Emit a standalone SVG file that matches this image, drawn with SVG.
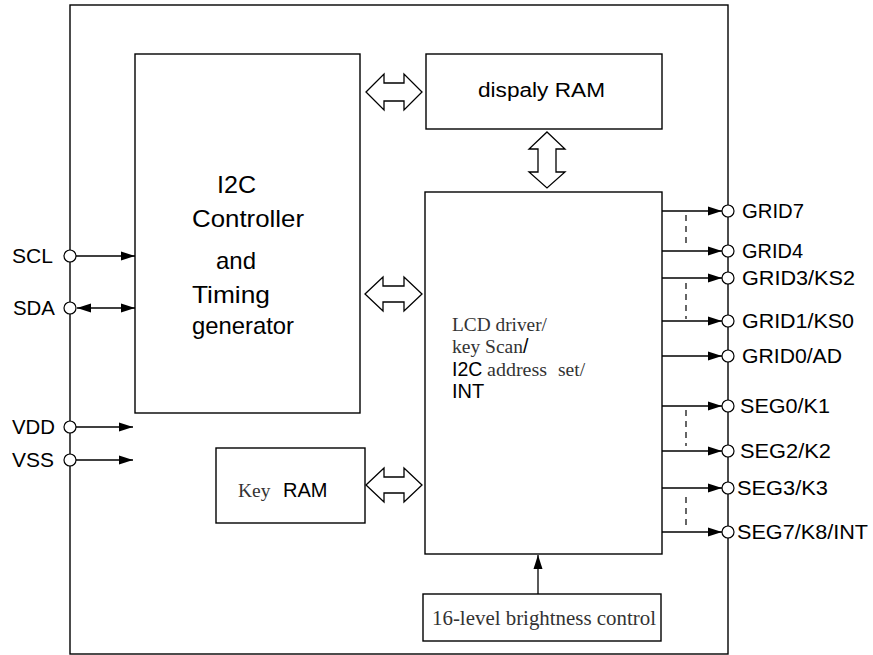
<svg xmlns="http://www.w3.org/2000/svg" width="873" height="655" viewBox="0 0 873 655">
<style>
.box{fill:#fff;stroke:#000;stroke-width:1.4}
.ln{fill:none;stroke:#000;stroke-width:1.3}
.dash{fill:none;stroke:#000;stroke-width:1.2;stroke-dasharray:6,5}
.pin{fill:#fff;stroke:#000;stroke-width:1.2}
.dbl{fill:#fff;stroke:#000;stroke-width:1.3;stroke-linejoin:miter}
.sans{font-family:"Liberation Sans",Arial,sans-serif;fill:#000}
.serif{font-family:"Liberation Serif","Times New Roman",serif;fill:#333}
.lbl{font-size:20px}
.big{font-size:24px}
</style>
<defs>
<marker id="ah" markerUnits="userSpaceOnUse" markerWidth="14" markerHeight="10" refX="14" refY="5" orient="auto-start-reverse">
<path d="M0,0.5 L14,5 L0,9.5 Z" fill="#000"/>
</marker>
</defs>
<rect width="873" height="655" fill="#fff"/>
<g id="frame">
<rect x="70" y="5" width="658" height="649" class="box" fill="none"/>
</g>
<g id="i2c-controller">
<rect x="135" y="54" width="225" height="359" class="box"/>
<text class="sans big" x="217" y="193" textLength="39" lengthAdjust="spacingAndGlyphs">I2C</text>
<text class="sans big" x="192" y="227" textLength="112" lengthAdjust="spacingAndGlyphs">Controller</text>
<text class="sans big" x="216" y="269" textLength="40" lengthAdjust="spacingAndGlyphs">and</text>
<text class="sans big" x="192" y="303" textLength="78" lengthAdjust="spacingAndGlyphs">Timing</text>
<text class="sans big" x="192" y="334" textLength="102" lengthAdjust="spacingAndGlyphs">generator</text>
</g>
<g id="display-ram">
<rect x="426" y="54" width="236" height="75" class="box"/>
<text class="sans lbl" x="478" y="97" textLength="127" lengthAdjust="spacingAndGlyphs">dispaly RAM</text>
</g>
<g id="lcd-driver">
<rect x="425" y="192" width="237" height="362" class="box"/>
<text class="serif" font-size="19.5" x="452" y="331" textLength="95" lengthAdjust="spacingAndGlyphs">LCD driver/</text>
<text x="452" y="353" font-size="19.5"><tspan class="serif">key Scan</tspan><tspan class="sans">/</tspan></text>
<text x="452" y="376" font-size="19.5"><tspan class="sans">I2C</tspan><tspan class="serif" x="487" textLength="60" lengthAdjust="spacingAndGlyphs">address</tspan><tspan class="serif" x="558">set/</tspan></text>
<text class="sans" font-size="20" x="452" y="398">INT</text>
</g>
<g id="key-ram">
<rect x="216" y="448" width="149" height="75" class="box"/>
<text x="238" y="497"><tspan class="serif" font-size="19.5">Key</tspan><tspan class="sans" font-size="20" x="283">RAM</tspan></text>
</g>
<g id="brightness">
<rect x="423" y="594" width="238" height="47" class="box"/>
<text class="serif" font-size="20" x="432" y="625" textLength="224" lengthAdjust="spacingAndGlyphs">16-level brightness control</text>
</g>
<g id="connectors">
<path class="dbl" d="M366,92 L384,74 L384,83 L404,83 L404,74 L422,92 L404,110 L404,101 L384,101 L384,110 Z"/>
<path class="dbl" d="M365,294 L383,277 L383,286 L404,286 L404,277 L422,294 L404,311 L404,302 L383,302 L383,311 Z"/>
<path class="dbl" d="M366,485 L384,468 L384,477 L404,477 L404,468 L422,485 L404,502 L404,493 L384,493 L384,502 Z"/>
<path class="dbl" d="M547,132 L565,149 L556,149 L556,172 L565,172 L547,188 L529,172 L538,172 L538,149 L529,149 Z"/>
<line class="ln" x1="538" y1="594" x2="538" y2="555" marker-end="url(#ah)"/>
<line class="ln" x1="76" y1="256" x2="135" y2="256" marker-end="url(#ah)"/>
<line class="ln" x1="77" y1="308" x2="135" y2="308" marker-start="url(#ah)" marker-end="url(#ah)"/>
<line class="ln" x1="76" y1="427" x2="133" y2="427" marker-end="url(#ah)"/>
<line class="ln" x1="76" y1="460" x2="133" y2="460" marker-end="url(#ah)"/>
<line class="ln" x1="662" y1="211" x2="722" y2="211" marker-end="url(#ah)"/>
<line class="ln" x1="662" y1="251" x2="722" y2="251" marker-end="url(#ah)"/>
<line class="ln" x1="662" y1="278" x2="722" y2="278" marker-end="url(#ah)"/>
<line class="ln" x1="662" y1="321" x2="722" y2="321" marker-end="url(#ah)"/>
<line class="ln" x1="662" y1="356" x2="722" y2="356" marker-end="url(#ah)"/>
<line class="ln" x1="662" y1="406" x2="722" y2="406" marker-end="url(#ah)"/>
<line class="ln" x1="662" y1="451" x2="722" y2="451" marker-end="url(#ah)"/>
<line class="ln" x1="662" y1="488" x2="722" y2="488" marker-end="url(#ah)"/>
<line class="ln" x1="662" y1="532" x2="722" y2="532" marker-end="url(#ah)"/>
<line class="dash" x1="686" y1="215" x2="686" y2="246"/>
<line class="dash" x1="686" y1="283" x2="686" y2="319"/>
<line class="dash" x1="686" y1="410" x2="686" y2="446"/>
<line class="dash" x1="686" y1="497" x2="686" y2="527"/>
</g>
<g id="pins-left">
<circle class="pin" cx="70" cy="256" r="6"/>
<circle class="pin" cx="70" cy="308" r="6"/>
<circle class="pin" cx="70" cy="427" r="6"/>
<circle class="pin" cx="70" cy="460" r="6"/>
<text class="sans lbl" x="12" y="263" textLength="41" lengthAdjust="spacingAndGlyphs">SCL</text>
<text class="sans lbl" x="13" y="315" textLength="42" lengthAdjust="spacingAndGlyphs">SDA</text>
<text class="sans lbl" x="12" y="434" textLength="43" lengthAdjust="spacingAndGlyphs">VDD</text>
<text class="sans lbl" x="12" y="467" textLength="42" lengthAdjust="spacingAndGlyphs">VSS</text>
</g>
<g id="pins-right">
<circle class="pin" cx="728" cy="211" r="6"/>
<circle class="pin" cx="728" cy="251" r="6"/>
<circle class="pin" cx="728" cy="278" r="6"/>
<circle class="pin" cx="728" cy="321" r="6"/>
<circle class="pin" cx="728" cy="356" r="6"/>
<circle class="pin" cx="728" cy="406" r="6"/>
<circle class="pin" cx="728" cy="451" r="6"/>
<circle class="pin" cx="728" cy="488" r="6"/>
<circle class="pin" cx="728" cy="532" r="6"/>
<text class="sans lbl" x="742" y="218" textLength="62" lengthAdjust="spacingAndGlyphs">GRID7</text>
<text class="sans lbl" x="742" y="258" textLength="61" lengthAdjust="spacingAndGlyphs">GRID4</text>
<text class="sans lbl" x="742" y="285" textLength="113" lengthAdjust="spacingAndGlyphs">GRID3/KS2</text>
<text class="sans lbl" x="742" y="328" textLength="112" lengthAdjust="spacingAndGlyphs">GRID1/KS0</text>
<text class="sans lbl" x="742" y="363" textLength="100" lengthAdjust="spacingAndGlyphs">GRID0/AD</text>
<text class="sans lbl" x="740" y="413" textLength="90" lengthAdjust="spacingAndGlyphs">SEG0/K1</text>
<text class="sans lbl" x="740" y="458" textLength="91" lengthAdjust="spacingAndGlyphs">SEG2/K2</text>
<text class="sans lbl" x="737" y="495" textLength="91" lengthAdjust="spacingAndGlyphs">SEG3/K3</text>
<text class="sans lbl" x="737" y="539" textLength="131" lengthAdjust="spacingAndGlyphs">SEG7/K8/INT</text>
</g>
</svg>
